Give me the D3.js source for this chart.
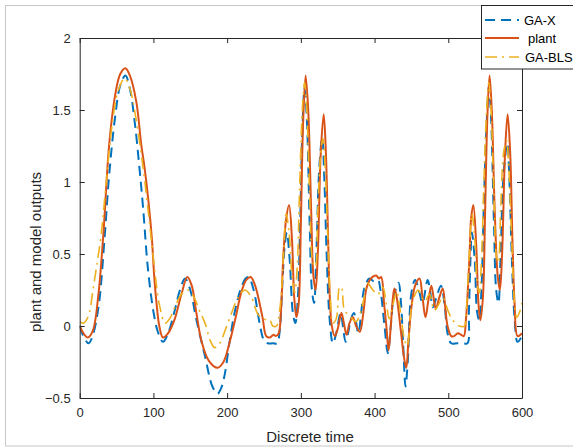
<!DOCTYPE html>
<html><head><meta charset="utf-8">
<script src="https://cdn.jsdelivr.net/npm/d3@7"></script>
<style>body{margin:0;background:#fff;} svg{display:block;}</style>
</head><body>
<svg id="c" width="573" height="447"></svg>
<script>
const xTicks = [0,100,200,300,400,500,600];
const yTicks = [-0.5,0,0.5,1,1.5,2];
const seriesNames = ["GA-X","plant","GA-BLS"];

const gaX = [[0,0.0],[5,-0.07],[12,-0.12],[18,-0.06],[26,0.15],[34,0.63],[40,1.05],[48,1.45],[55,1.67],[62,1.74],[68,1.65],[75,1.4],[81,1.1],[86,0.82],[92.5,0.4],[100,0.1],[106,-0.04],[113,-0.11],[120,-0.05],[129,0.11],[136,0.25],[143,0.33],[150,0.25],[158,0.05],[170,-0.21],[180,-0.42],[187,-0.47],[192,-0.43],[197,-0.33],[203,-0.12],[210,0.09],[218,0.25],[225,0.33],[229,0.34],[236,0.25],[244,0.02],[250,-0.1],[255,-0.12],[262,-0.12],[268,-0.12],[271,-0.05],[275,0.3],[278,0.55],[281,0.65],[285,0.45],[289,0.1],[292.5,0.02],[296,0.2],[299,0.7],[302,1.35],[305,1.65],[308,1.45],[312,0.7],[315,0.25],[318,0.16],[321,0.5],[325,1.1],[329,1.31],[332,1.0],[335,0.5],[339,0.05],[343.5,-0.12],[348,-0.05],[354,0.09],[357,0.0],[360.7,-0.11],[364,-0.05],[368,0.05],[372,0.09],[378,-0.05],[382,0.1],[386,0.26],[393,0.33],[399,0.31],[404.5,0.32],[408,0.25],[413.5,0.0],[418,-0.19],[422,0.0],[426,0.2],[432.5,0.3],[436,0.15],[439,-0.15],[442,-0.42],[445,-0.25],[450,0.23],[455,0.32],[460,0.25],[465,0.16],[472,0.32],[476,0.22],[479,0.13],[484,0.2],[490,0.28],[495,0.15],[499,-0.05],[504,-0.12],[512,-0.12],[520,-0.12],[526,-0.12],[528,0.1],[530,0.45],[532,0.65],[536,0.45],[539,0.1],[542,0.04],[545,0.25],[548,0.8],[552,1.4],[555,1.66],[558,1.45],[562,0.7],[565,0.25],[568,0.16],[571,0.5],[575,1.05],[580,1.27],[583,1.0],[586,0.5],[590,0.05],[594,-0.11],[600,-0.07]];

const plant = [[0,0.0],[5,-0.05],[11,-0.08],[18,-0.03],[25,0.2],[32,0.63],[40,1.26],[48,1.6],[55,1.75],[62,1.79],[68,1.74],[76.7,1.56],[83.5,1.26],[88,1.1],[93.4,0.86],[98,0.6],[101,0.35],[104,0.17],[108,0.0],[113,-0.08],[120,-0.05],[129,0.05],[138,0.22],[146,0.34],[152,0.28],[158,0.1],[165,-0.1],[175,-0.24],[187,-0.29],[195,-0.25],[204,-0.1],[212,0.07],[219,0.23],[226,0.32],[232,0.34],[238,0.28],[248,0.06],[253,-0.07],[258,-0.08],[263,-0.06],[266,-0.07],[270,-0.05],[273,0.1],[276,0.46],[280,0.74],[284,0.84],[288,0.6],[291,0.2],[294,0.06],[297,0.15],[300,0.7],[303,1.4],[306.5,1.74],[310,1.5],[314,0.8],[317,0.35],[320,0.25],[323,0.5],[327,1.2],[331,1.47],[334,1.2],[337,0.6],[339,0.23],[342,0.0],[346,-0.07],[350,-0.02],[355,0.09],[358,0.03],[362,-0.06],[366,0.02],[370.5,0.06],[375,0.0],[380,-0.04],[385,0.1],[389,0.26],[395,0.33],[402,0.35],[406,0.33],[409,0.34],[413,0.15],[416,0.0],[419,-0.17],[422,0.0],[425,0.2],[427,0.26],[430,0.2],[436,-0.05],[440,-0.22],[443,-0.29],[446,-0.1],[450,0.13],[455,0.28],[461,0.33],[465,0.2],[469,0.06],[473,0.18],[477,0.28],[480,0.2],[483,0.12],[488,0.2],[492.5,0.26],[496,0.12],[499,0.0],[504,-0.07],[508,-0.07],[513,-0.05],[517,-0.06],[521,-0.07],[524,0.05],[528.6,0.46],[531,0.75],[534,0.84],[538,0.55],[541,0.15],[543.5,0.04],[547,0.2],[550,0.8],[553,1.45],[556,1.74],[559,1.5],[563,0.8],[567,0.35],[570,0.25],[573,0.5],[577,1.2],[580.5,1.47],[584,1.2],[587,0.6],[590,0.15],[594,-0.07],[600,-0.05]];

const gaBLS = [[0,0.03],[5,0.02],[10,0.05],[13.5,0.1],[18,0.25],[22.5,0.4],[29,0.63],[36,1.0],[44,1.4],[52,1.63],[61,1.72],[68,1.65],[76,1.45],[86,1.1],[94,0.75],[101.5,0.4],[108,0.15],[116,0.02],[122,0.05],[129,0.13],[138,0.22],[147,0.25],[155,0.2],[163,0.1],[170,0.02],[177,-0.1],[183,-0.15],[190,-0.12],[198,-0.02],[206,0.09],[215,0.2],[224,0.25],[233,0.2],[242,0.08],[250,0.05],[255,0.04],[258,0.04],[262,0.0],[267,0.0],[271,0.1],[273.6,0.23],[277,0.55],[280,0.78],[284,0.65],[288,0.35],[291.6,0.23],[295,0.4],[298,0.9],[302,1.5],[305,1.69],[308,1.5],[312,0.9],[316,0.45],[319.6,0.41],[323,0.8],[327,1.2],[330,1.3],[333,1.1],[336,0.7],[340,0.2],[343.5,0.02],[348,0.05],[352.6,0.27],[355,0.27],[359,0.11],[364,0.08],[368,0.06],[375,0.03],[380,0.08],[386,0.2],[390,0.3],[397.7,0.25],[404.5,0.22],[411,0.27],[416,0.15],[420,0.05],[425,0.15],[430,0.24],[435,0.1],[440,-0.08],[444,-0.14],[447,-0.05],[450,0.13],[455,0.22],[459,0.25],[468,0.17],[474.5,0.22],[481,0.11],[487,0.15],[492.5,0.2],[500,0.1],[506,0.04],[515,0.0],[522,0.0],[524,0.08],[526,0.23],[529,0.55],[532,0.78],[536,0.6],[539,0.3],[542,0.23],[545,0.45],[548,0.95],[552,1.5],[555,1.69],[558,1.5],[562,0.9],[565,0.5],[568,0.44],[571,0.8],[575,1.2],[579,1.29],[582,1.1],[586,0.6],[590,0.15],[593,0.06],[597,0.1],[600,0.16]];

const svg = d3.select("#c");
const L = 79.7, R = 522, T = 38, B = 398;
const x = d3.scaleLinear().domain([0,600]).range([L,R]);
const y = d3.scaleLinear().domain([-0.5,2]).range([B,T]);
const font = "'Liberation Sans', Arial, sans-serif";
const ink = "#262626";

// figure frame
svg.append("rect").attr("x",5.5).attr("y",5.5).attr("width",600).attr("height",440.5)
  .attr("fill","none").attr("stroke","#c8c8c8").attr("stroke-width",1);

svg.append("clipPath").attr("id","pc").append("rect")
  .attr("x",L).attr("y",T).attr("width",R-L).attr("height",B-T);

const line = d3.line().x(d=>x(d[0])).y(d=>y(d[1])).curve(d3.curveCatmullRom.alpha(0.5));
const styles = [
  {data:gaX, color:"#0072BD", dash:"10,6", w:2},
  {data:plant, color:"#D95319", dash:null, w:2},
  {data:gaBLS, color:"#EDB120", dash:"12,5,2,5", w:1.6}
];
const g = svg.append("g").attr("clip-path","url(#pc)");
styles.forEach(s=>{
  g.append("path").attr("d",line(s.data)).attr("fill","none")
   .attr("stroke",s.color).attr("stroke-width",s.w)
   .attr("stroke-dasharray",s.dash).attr("stroke-linejoin","round");
});

// axes
const axB = d3.axisBottom(x).tickValues(xTicks).tickSizeInner(-5).tickSizeOuter(0).tickPadding(10);
const axL = d3.axisLeft(y).tickValues(yTicks).tickSizeInner(-5).tickSizeOuter(0).tickPadding(9).tickFormat(d3.format(""));
const axT = d3.axisTop(x).tickValues(xTicks).tickSizeInner(-5).tickSizeOuter(0).tickFormat("");
const axR = d3.axisRight(y).tickValues(yTicks).tickSizeInner(-5).tickSizeOuter(0).tickFormat("");
function style(sel){
  sel.selectAll("path").attr("stroke",ink).attr("stroke-width",1);
  sel.selectAll("line").attr("stroke",ink).attr("stroke-width",1);
  sel.selectAll("text").attr("fill",ink).style("font-family",font).style("font-size","13px");
}
svg.append("g").attr("transform",`translate(0,${B})`).call(axB).call(style);
svg.append("g").attr("transform",`translate(${L},0)`).call(axL).call(style);
svg.append("g").attr("transform",`translate(0,${T})`).call(axT).call(style);
svg.append("g").attr("transform",`translate(${R},0)`).call(axR).call(style);

svg.append("text").attr("x",310).attr("y",442).attr("text-anchor","middle")
  .attr("fill",ink).style("font-family",font).style("font-size","15px").text("Discrete time");
svg.append("text").attr("transform","translate(41,252) rotate(-90)").attr("text-anchor","middle")
  .attr("fill",ink).style("font-family",font).style("font-size","15px").text("plant and model outputs");

// legend
const lg = svg.append("g");
lg.append("rect").attr("x",481.5).attr("y",5.5).attr("width",110).attr("height",63.5)
  .attr("fill","#fff").attr("stroke",ink).attr("stroke-width",1);
const ly = [20,38,57];
const lx = [524,528,525];
styles.forEach((s,i)=>{
  lg.append("line").attr("x1",485).attr("x2",519).attr("y1",ly[i]).attr("y2",ly[i])
    .attr("stroke",s.color).attr("stroke-width",s.w).attr("stroke-dasharray",s.dash);
  lg.append("text").attr("x",lx[i]).attr("y",ly[i]+4.5).attr("fill","#000")
    .style("font-family",font).style("font-size","13px").text(seriesNames[i]);
});
</script>
</body></html>
